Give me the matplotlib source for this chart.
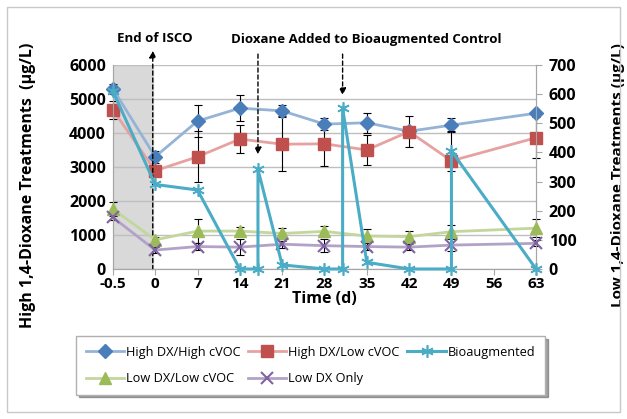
import numpy as np
import matplotlib.pyplot as plt
from matplotlib.patches import Rectangle

plt.rcParams['font.family'] = ['Open Sans', 'DejaVu Sans']
plt.rcParams['font.weight'] = 'bold'

# data
tick_days = [-0.5, 0, 7, 14, 21, 28, 35, 42, 49, 56, 63]
days = [-0.5, 0, 7, 14, 21, 28, 35, 42, 49, 63]

high_high = [5300, 3300, 4350, 4730, 4650, 4260, 4300, 4050, 4230, 4580]
high_high_err = [150, 170, 470, 390, 160, 180, 300, 100, 200, 0]
high_low = [4680, 2890, 3300, 3820, 3670, 3680, 3500, 4040, 3180, 3860]
high_low_err = [260, 60, 750, 400, 800, 650, 450, 460, 150, 600]

bio_days = [-0.5, 0, 7, 14, 17, 17, 21, 28, 31, 31, 35, 42, 49, 49, 63]
bio = [610, 290, 271, 0, 0, 342, 14, 0, 0, 551, 23, 0, 0, 405, 0]
bio_err = [0, 0, 0, 0, 0, 0, 0, 0, 0, 0, 0, 0, 0, 70, 0]

low_low = [206, 100, 130, 130, 122, 129, 113, 111, 128, 140]
low_low_err = [25, 10, 40, 15, 18, 20, 24, 20, 23, 30]
low_only = [177, 65, 77, 75, 85, 80, 77, 75, 82, 88]
low_only_err = [10, 10, 12, 27, 12, 23, 12, 10, 20, 10]


def pos(d):
    # day -0.5 sits one slot left of day 0 on the axis
    return [-7 if v < 0 else v for v in d]


def errs(ax, x, y, e):
    x, y, e = np.array(pos(x)), np.array(y, float), np.array(e, float)
    m = e > 0
    ax.errorbar(x[m], y[m], yerr=e[m], fmt='none', ecolor='black', elinewidth=0.8,
                capsize=3, capthick=0.8, zorder=2, clip_on=False)


fig = plt.figure(figsize=(6.27, 4.19), dpi=100)
ax = fig.add_axes([0.180, 0.358, 0.675, 0.487])
ax2 = ax.twinx()

ax.axvspan(-7, -0.4, color='#d9d9d9', zorder=0)

errs(ax, days, high_high, high_high_err)
errs(ax, days, high_low, high_low_err)
h1, = ax.plot(pos(days), high_high, color='#95b3d7', lw=2, marker='D', ms=7,
              mfc='#4a7ebb', mec='#4a7ebb', clip_on=False, zorder=3, label='High DX/High cVOC')
h2, = ax.plot(pos(days), high_low, color='#e6a2a0', lw=2, marker='s', ms=9,
              mfc='#c0504d', mec='#c0504d', clip_on=False, zorder=3, label='High DX/Low cVOC')

errs(ax2, days, low_low, low_low_err)
errs(ax2, days, low_only, low_only_err)
errs(ax2, bio_days, bio, bio_err)
h4, = ax2.plot(pos(days), low_low, color='#c3d69b', lw=2, marker='^', ms=8,
               mfc='#9bbb59', mec='#9bbb59', clip_on=False, zorder=3, label='Low DX/Low cVOC')
h5, = ax2.plot(pos(days), low_only, color='#b3a2c7', lw=2, marker='x', ms=8, mew=1.5,
               mec='#8064a2', clip_on=False, zorder=3, label='Low DX Only')
h3, = ax2.plot(pos(bio_days), bio, color='#4bacc6', lw=2.2, marker=(6, 2, 0), ms=9, mew=1.2,
               mec='#4bacc6', clip_on=False, zorder=4, label='Bioaugmented')

ax.set_xlim(-7, 63)
ax.set_ylim(0, 6000)
ax2.set_ylim(0, 700)
ax.set_yticks(np.arange(0, 6001, 1000))
ax2.set_yticks(np.arange(0, 701, 100))
ax.set_xticks(pos(tick_days))
ax.set_xticklabels([('%g' % d) for d in tick_days])
ax.grid(axis='y', color='#bfbfbf', lw=1)
ax.set_axisbelow(True)

for a in (ax, ax2):
    for s in a.spines.values():
        s.set_color('#a6a6a6')
    a.spines['top'].set_visible(False)
ax.tick_params(axis='y', length=0, labelsize=11.5, pad=5)
ax.tick_params(axis='x', length=4, color='#a6a6a6', labelsize=11, pad=2)
ax2.tick_params(axis='y', length=4, color='#a6a6a6', labelsize=11.5, pad=5)

ax.set_xlabel('Time (d)', fontsize=11.5, fontweight='bold', labelpad=0)
ax.set_ylabel('High 1,4-Dioxane Treatments  (µg/L)', fontsize=11.5, fontweight='bold')
ax2.set_ylabel('Low 1,4-Dioxane Treatments (µg/L)', fontsize=11, fontweight='bold', rotation=90)
ax.yaxis.set_label_coords(-0.181, 0.41)
ax2.yaxis.set_label_coords(1.176, 0.46)

# annotations
arrow = dict(arrowstyle='-|>', color='black', lw=1, linestyle=(0, (3, 2)), mutation_scale=10)
ax.annotate('', xy=(-0.4, 6500), xytext=(-0.4, -100), arrowprops=arrow, annotation_clip=False)
ax.annotate('', xy=(17, 3290), xytext=(17, 6400), arrowprops=arrow, annotation_clip=False)
ax.annotate('', xy=(31, 5030), xytext=(31, 6400), arrowprops=arrow, annotation_clip=False)
fig.text(155 / 627, 1 - 39 / 419, 'End of ISCO', ha='center', va='center', fontsize=9.5, fontweight='bold')
fig.text(366 / 627, 1 - 39 / 419, 'Dioxane Added to Bioaugmented Control', ha='center', va='center',
         fontsize=9.5, fontweight='bold')

leg = fig.legend(handles=[h1, h4, h2, h5, h3], ncol=3, loc='upper left',
                 bbox_to_anchor=(76 / 627, 1 - 336 / 419), fontsize=9.2, frameon=True,
                 fancybox=False, shadow=True, edgecolor='#b0b0b0', handlelength=3.0,
                 handletextpad=0.15, columnspacing=0.6, borderpad=0.75, labelspacing=1.05,
                 borderaxespad=0)
for t in leg.get_texts():
    t.set_fontweight('normal')

fig.patches.append(Rectangle((7 / 627, 7 / 419), 613 / 627, 405 / 419, transform=fig.transFigure,
                             fill=False, edgecolor='#c8c8c8', lw=1))

fig.savefig('out.png', dpi=100)
